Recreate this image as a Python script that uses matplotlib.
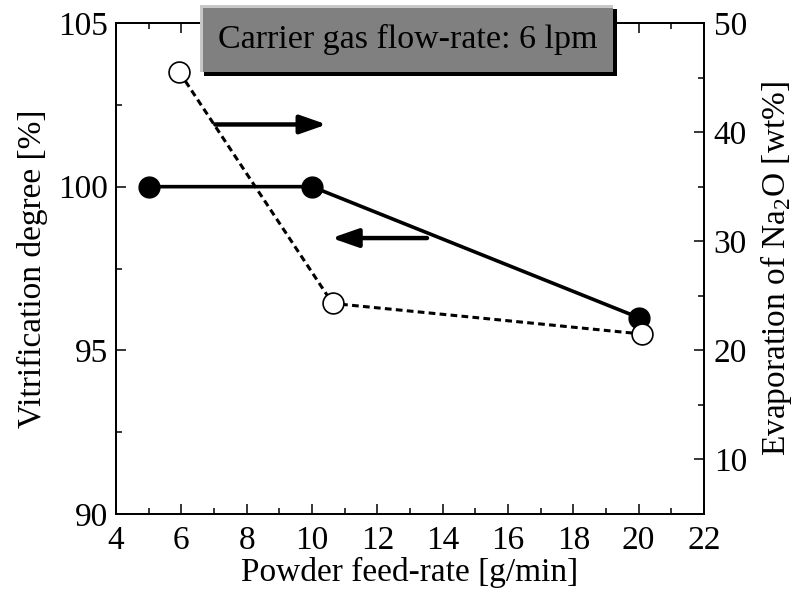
import matplotlib
matplotlib.use('Agg')
import matplotlib.pyplot as plt
from matplotlib.patches import Rectangle
from matplotlib.ticker import MultipleLocator

# data
feed_vit = [5, 10, 20]                # powder feed-rate [g/min]
vitrification = [100, 100, 96]        # vitrification degree [%]
feed_evap = [5.94, 10.63, 20.09]
evaporation = [45.5, 24.3, 21.5]      # evaporation of Na2O [wt%]

plt.rcParams['font.family'] = ['Liberation Serif', 'DejaVu Serif']
plt.rcParams['mathtext.fontset'] = 'custom'
plt.rcParams['mathtext.rm'] = 'Liberation Serif'
plt.rcParams['font.size'] = 24

W, H = 803, 598
fig = plt.figure(figsize=(W / 100, H / 100), dpi=100)
ax = fig.add_axes([116 / W, 1 - 514 / H, (704 - 116) / W, (514 - 23) / H])
ax2 = ax.twinx()

# left axis: vitrification
ax.plot(feed_vit, vitrification, '-', color='k', lw=2.6, marker='o', ms=15,
        mfc='k', mec='k', zorder=3)
ax.set_xlim(4, 22)
ax.set_ylim(90, 105)
ax.xaxis.set_major_locator(MultipleLocator(2))
ax.xaxis.set_minor_locator(MultipleLocator(1))
ax.yaxis.set_major_locator(MultipleLocator(5))
ax.yaxis.set_minor_locator(MultipleLocator(2.5))
ax.tick_params(which='both', direction='in', top=True, right=False, width=1.1)
ax.tick_params(which='major', length=7)
ax.tick_params(which='minor', length=4)
ax.tick_params(axis='x', pad=8)
ax.tick_params(axis='y', pad=6)
ax.set_xlabel('Powder feed-rate [g/min]', labelpad=1)
ax.set_ylabel('Vitrification degree [%]', labelpad=7)

# right axis: Na2O evaporation
ax2.plot(feed_evap, evaporation, color='k', lw=2.2, ls=(0, (2.2, 1.4)),
         marker='o', ms=15, mfc='white', mec='k', mew=1.2, zorder=3)
ax2.set_ylim(5, 50)
ax2.yaxis.set_major_locator(MultipleLocator(10))
ax2.yaxis.set_minor_locator(MultipleLocator(5))
ax2.tick_params(which='both', direction='in', width=1.1, pad=7)
ax2.tick_params(which='major', length=7)
ax2.tick_params(which='minor', length=4)
ax2.set_ylabel(r'Evaporation of Na$_\mathregular{2}$O [wt%]', labelpad=8)

for a in (ax, ax2):
    for s in a.spines.values():
        s.set_linewidth(1.3)

# direction arrows
arrow = dict(arrowstyle='-|>,head_length=0.8,head_width=0.28', lw=3.2,
             color='k', mutation_scale=20, shrinkA=0, shrinkB=0)
ax.annotate('', xy=(10.45, 101.9), xytext=(7.04, 101.9), arrowprops=arrow)
ax.annotate('', xy=(10.6, 98.43), xytext=(13.52, 98.43), arrowprops=arrow)

# beveled label box in figure pixels
def px(x0, y0, x1, y1, **kw):
    return Rectangle((x0 / W, 1 - y1 / H), (x1 - x0) / W, (y1 - y0) / H,
                     transform=fig.transFigure, lw=0, zorder=10, **kw)

fig.add_artist(px(204, 9, 617, 76, color='black'))
fig.add_artist(px(200, 5, 613, 72, color='#c8c8c8'))
fig.add_artist(px(203, 8, 613, 72, color='#808080'))
fig.text(408 / W, 1 - 39 / H, 'Carrier gas flow-rate: 6 lpm', ha='center',
         va='center', fontsize=24.5, zorder=11)

fig.savefig('out.png', dpi=100)
